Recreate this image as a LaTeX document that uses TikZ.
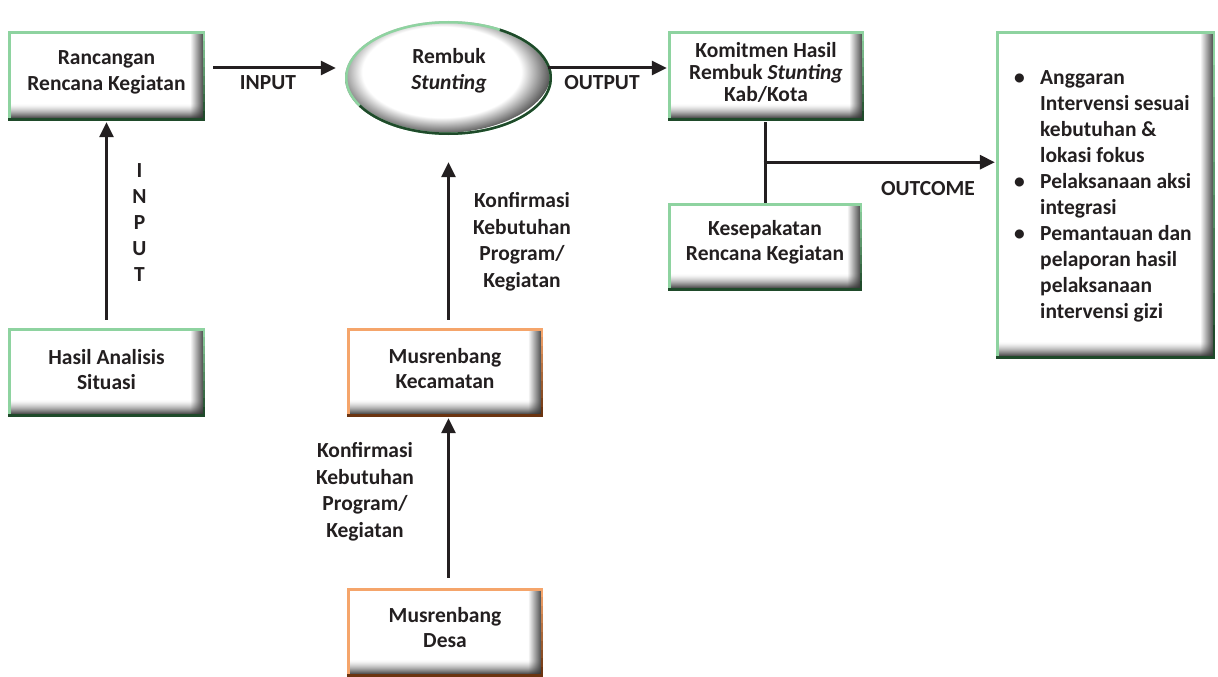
\documentclass[tikz,border=0pt]{standalone}
\usepackage{fontspec}
\setmainfont{Carlito}
\usetikzlibrary{arrows.meta,fadings,shapes.geometric}
\definecolor{gl}{HTML}{8ED3A0}
\definecolor{gd}{HTML}{1F4A2A}
\definecolor{ol}{HTML}{F5A56B}
\definecolor{od}{HTML}{6B3410}
\definecolor{tx}{HTML}{231F20}
\tikzfading[name=fadeR, left color=transparent!100, right color=transparent!0]
\pgfdeclareradialshading{ringshade}{\pgfpoint{0bp}{0bp}}{color(0bp)=(white); color(18bp)=(white); color(25bp)=(black!70); color(50bp)=(black!70)}
\tikzset{
  txt/.style={text=tx, font=\bfseries\fontsize{21.5}{25.5}\selectfont, align=center, inner sep=0pt},
  box/.style n args={2}{minimum width=197pt, minimum height=88pt, inner sep=0pt,
    path picture={
      \foreach \i in {0,...,15}{
        \pgfmathsetmacro{\pc}{82*((16-\i)/16)^1.6}
        \fill[black!\pc] ([yshift=\i pt]path picture bounding box.south west) rectangle ([yshift=\i pt + 1.05pt]path picture bounding box.south east);
      }
      \fill[black!80, path fading=fadeR] ([xshift=-15pt]path picture bounding box.south east) rectangle (path picture bounding box.north east);
      \draw[#1, line width=5pt] (path picture bounding box.south west) -- (path picture bounding box.north west) -- (path picture bounding box.north east);
      \foreach \i in {0,...,9}{
        \pgfmathsetmacro{\pc}{\i*11}
        \fill[#2!\pc!#1] ([xshift=-2.5pt]$(path picture bounding box.north east)!\i/10!(path picture bounding box.south east)$) rectangle ($(path picture bounding box.north east)!\i/10+0.105!(path picture bounding box.south east)$);
      }
      \draw[#2, line width=5pt] (path picture bounding box.south east) -- (path picture bounding box.south west);
    }},
  gbox/.style={box={gl}{gd}},
  obox/.style={box={ol}{od}},
  arr/.style={draw=tx, line width=3pt, -{Triangle[length=15pt,width=14pt]}},
  ln/.style={draw=tx, line width=3pt},
}
\usetikzlibrary{calc}
\begin{document}
\begin{tikzpicture}[x=1pt,y=-1pt]
\useasboundingbox (0,0) rectangle (1218,677);
% boxes
\node[gbox] (ranc) at (106.5,76) {};
\node[txt] (rancT) at (106.5,72.5) {Rancangan\\Rencana Kegiatan};
\node[ellipse, minimum width=207pt, minimum height=114pt, inner sep=0pt,
  path picture={
    \shade[shading=ringshade] ([xshift=-7pt,yshift=7pt]path picture bounding box.center) ellipse [x radius=110pt, y radius=62pt];
    \draw[gl, line width=5pt] (path picture bounding box.center) ellipse [x radius=103.5pt, y radius=57pt];
    \draw[gd, line width=5pt] ([shift={(60:103.5pt and 57pt)}]path picture bounding box.center) arc[start angle=60, end angle=-150, x radius=103.5pt, y radius=57pt];
  }] (ell) at (448.5,78) {};
\node[txt] (ellT) at (449,71) {Rembuk\\\textit{Stunting}};
\node[gbox, minimum width=196pt] (kom) at (766,76) {};
\node[txt, font=\bfseries\fontsize{21.5}{22}\selectfont] (komT) at (766,72) {Komitmen Hasil\\Rembuk \textit{Stunting}\\Kab/Kota};
\node[gbox, minimum width=194pt, minimum height=87pt] (kes) at (765,246.5) {};
\node[txt] (kesT) at (765,242.5) {Kesepakatan\\Rencana Kegiatan};
\node[gbox, minimum width=219pt, minimum height=326pt] (out) at (1105.5,195) {};
\node[txt, anchor=west, align=left] (outT) at (1011,196) {\fontsize{21.5}{26}\selectfont
  \begin{tabular}{@{}p{29pt}@{}l@{}}
  \hspace{3pt}\textbullet & Anggaran\\
   & Intervensi sesuai\\
   & kebutuhan \&\\
   & lokasi fokus\\
  \hspace{3pt}\textbullet & Pelaksanaan aksi\\
   & integrasi\\
  \hspace{3pt}\textbullet & Pemantauan dan\\
   & pelaporan hasil\\
   & pelaksanaan\\
   & intervensi gizi
  \end{tabular}};
\node[gbox] (hasil) at (106.5,372) {};
\node[txt] (hasilT) at (106.5,369.5) {Hasil Analisis\\Situasi};
\node[obox, minimum width=196pt] (kec) at (445,372) {};
\node[txt] (kecT) at (445,368.5) {Musrenbang\\Kecamatan};
\node[obox, minimum width=196pt] (desa) at (445,632) {};
\node[txt] (desaT) at (445,627.5) {Musrenbang\\Desa};
% labels
\node[txt] (lin) at (268,83) {INPUT};
\node[txt] (lout) at (602,83) {OUTPUT};
\node[txt, font=\bfseries\fontsize{21.5}{26.2}\selectfont] (lvin) at (139.5,222.5) {I\\N\\P\\U\\T};
\node[txt, font=\bfseries\fontsize{21.5}{26.5}\selectfont] (lk1) at (522,242) {Konfirmasi\\Kebutuhan\\Program/\\Kegiatan};
\node[txt, font=\bfseries\fontsize{21.5}{26.5}\selectfont] (lk2) at (365,492) {Konfirmasi\\Kebutuhan\\Program/\\Kegiatan};
\node[txt] (loc) at (928,189) {OUTCOME};
% connectors
\draw[arr] ([xshift=8pt,yshift=8pt]ranc.east) -- ([xshift=-9pt,yshift=10pt]ell.west);
\draw[arr] ([xshift=-4pt,yshift=10pt]ell.east) -- ([xshift=-1pt,yshift=8pt]kom.west);
\draw[arr] ([yshift=8pt]hasil.north) -- ([yshift=-2pt]ranc.south);
\path (kec.north -| ell.south) ++(0,-8) coordinate (k1);
\path (ell.south) ++(0,27) coordinate (e1);
\draw[arr] (k1) -- (e1);
\path (desa.north -| ell.south) ++(0,-10) coordinate (d1);
\path (kec.south -| ell.south) ++(0,2) coordinate (k2);
\draw[arr] (d1) -- (k2);
\path (kom.south) ++(-1,2) coordinate (ks);
\draw[ln] (ks) -- (ks |- kes.north);
\path (ks) ++(0,40) coordinate (j);
\draw[arr] ([xshift=-1.5pt]j) -- ([xshift=-1pt]j -| out.west);
\end{tikzpicture}
\end{document}
